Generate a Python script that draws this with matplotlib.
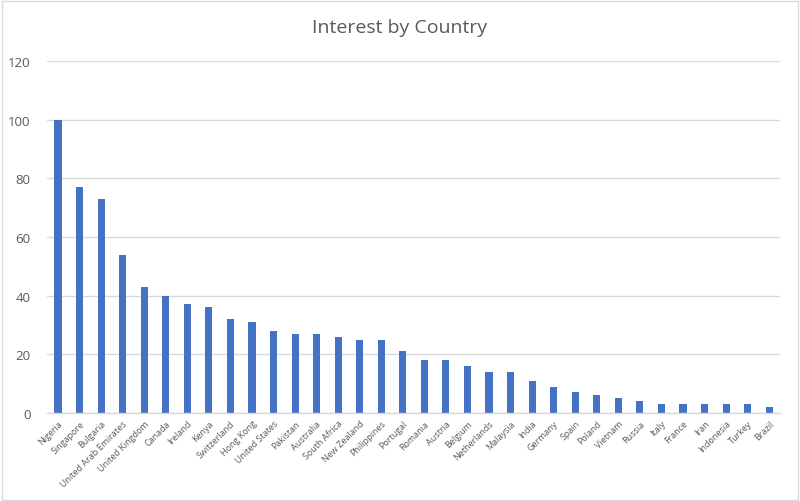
import matplotlib
matplotlib.use("Agg")
import matplotlib.pyplot as plt
from matplotlib.patches import Rectangle

countries = ["Nigeria", "Singapore", "Bulgaria", "United Arab Emirates", "United Kingdom",
             "Canada", "Ireland", "Kenya", "Switzerland", "Hong Kong", "United States",
             "Pakistan", "Australia", "South Africa", "New Zealand", "Philippines",
             "Portugal", "Romania", "Austria", "Belgium", "Netherlands", "Malaysia",
             "India", "Germany", "Spain", "Poland", "Vietnam", "Russia", "Italy",
             "France", "Iran", "Indonesia", "Turkey", "Brazil"]
interest = [100, 77, 73, 54, 43, 40, 37, 36, 32, 31, 28, 27, 27, 26, 25, 25,
            21, 18, 18, 16, 14, 14, 11, 9, 7, 6, 5, 4, 3, 3, 3, 3, 3, 2]
y_ticks = [0, 20, 40, 60, 80, 100, 120]

plt.rcParams['font.family'] = ['Open Sans', 'DejaVu Sans']
text_color = "#595959"

fig = plt.figure(figsize=(8.0, 5.02), dpi=100)
ax = fig.add_axes([0.059, 0.1753, 0.916, 0.7012])

x = list(range(len(countries)))
ax.bar(x, interest, width=0.33, color="#4472C4", zorder=3)
ax.set_xlim(-0.5, len(countries) - 0.5)
ax.set_ylim(0, 120)
ax.set_yticks(y_ticks)
ax.set_yticklabels([str(v) for v in y_ticks], fontsize=9.5, color=text_color)
ax.set_xticks(x)
ax.set_xticklabels(countries, rotation=45, ha="right", rotation_mode="anchor",
                   fontsize=6.5, color=text_color)
ax.tick_params(axis="both", length=0, pad=4)
ax.tick_params(axis="y", pad=12)
ax.grid(axis="y", color="#D9D9D9", linewidth=1, zorder=0)
for side in ["top", "right", "left"]:
    ax.spines[side].set_visible(False)
ax.spines["bottom"].set_color("#D9D9D9")
ax.spines["bottom"].set_linewidth(1)
ax.spines["bottom"].set_zorder(4)

fig.text(0.5, 0.944, "Interest by Country", ha="center", va="center",
         fontsize=14, color=text_color)

fig.patches.append(Rectangle((0.002, 0.002), 0.995, 0.995, transform=fig.transFigure,
                             fill=False, edgecolor="#D9D9D9", linewidth=1))

fig.savefig("out.png", dpi=100)
